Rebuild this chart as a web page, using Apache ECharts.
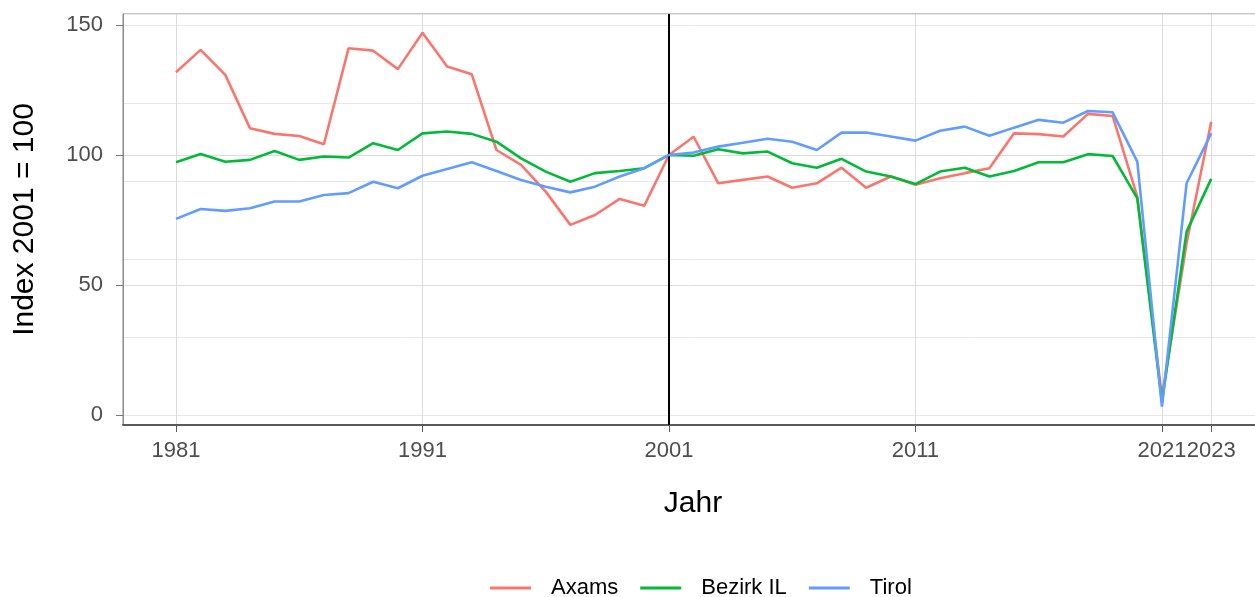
<!DOCTYPE html>
<html><head><meta charset="utf-8">
<script src="https://cdn.jsdelivr.net/npm/echarts@6/dist/echarts.min.js"></script>
<style>html,body{margin:0;padding:0;background:#fff}#c{width:1255px;height:597px}</style>
</head><body><div id="c"></div>
<script>
const years = [1981,1982,1983,1984,1985,1986,1987,1988,1989,1990,1991,1992,1993,1994,1995,1996,1997,1998,1999,2000,2001,2002,2003,2004,2005,2006,2007,2008,2009,2010,2011,2012,2013,2014,2015,2016,2017,2018,2019,2020,2021,2022,2023];
const axams = [131.8,140.4,130.8,110.3,108.1,107.3,104.1,141.0,140.1,133.0,147.0,134.0,131.0,101.9,96.2,85.9,73.1,76.9,83.1,80.5,100,107.0,89.1,90.4,91.7,87.4,89.1,95.1,87.4,91.7,88.5,91.0,93.0,94.9,108.3,108.0,107.1,115.8,115.0,84.0,7,66,112.8];
const bezirk = [97.2,100.4,97.4,98.1,101.5,98.1,99.4,99.0,104.5,101.9,108.3,109.0,108.1,105.1,98.7,93.6,89.7,93.0,93.8,94.9,100,99.7,102.2,100.6,101.3,96.8,95.1,98.5,93.6,91.7,88.8,93.6,95.1,91.7,93.8,97.2,97.2,100.3,99.6,83.3,5,70.5,90.8];
const tirol = [75.4,79.2,78.5,79.5,82.1,82.1,84.6,85.3,89.7,87.2,92.0,94.6,97.2,93.8,90.4,87.8,85.6,87.8,91.7,94.9,100,100.9,103.2,104.7,106.2,105.1,101.9,108.6,108.6,107.1,105.5,109.3,110.9,107.4,110.5,113.5,112.4,116.9,116.4,97.4,3.2,89.1,108.3];
const xTicks = [1981,1991,2001,2011,2021,2023];
const yMajor = [0,50,100,150];
const yMinor = [25,75,125];
const refYear = 2001;
const names = ['Axams','Bezirk IL','Tirol'];
const colors = ['#F8766D','#00BA38','#619CFF'];

const pairs = arr => years.map((y,i)=>[y,arr[i]]);
const chart = echarts.init(document.getElementById('c'), null, {renderer:'canvas'});
const font = 'Liberation Sans, Arial, sans-serif';
const series = [axams,bezirk,tirol].map((d,i)=>({
  name:names[i], type:'line', data:pairs(d), showSymbol:false, symbol:'none',
  lineStyle:{color:colors[i], width:2.6}, itemStyle:{color:colors[i]}, z:3+i, animation:false
}));
series[0].markLine = {silent:true, symbol:'none', label:{show:false},
  lineStyle:{color:'#000', width:2, type:'solid'}, data:[{xAxis:refYear}], animation:false};
series.push({type:'line', data:[], xAxisIndex:0, yAxisIndex:1, silent:true});
chart.setOption({
  animation:false,
  grid:{left:123, width:1140, top:14, bottom:172, show:true, borderColor:'#8a8a8a', borderWidth:1,
    containLabel:false, outerBoundsMode:'none'},
  xAxis:{type:'value', min:1978.85, max:2025.1,
    name:'Jahr', nameLocation:'middle', nameGap:64,
    nameTextStyle:{fontFamily:font, fontSize:30, color:'#000'},
    axisLine:{show:true, onZero:false, lineStyle:{color:'#5a5a5a', width:2}},
    axisTick:{show:true, customValues:xTicks, length:7, lineStyle:{color:'#5a5a5a', width:1}},
    axisLabel:{customValues:xTicks, margin:15, fontFamily:font, fontSize:22, color:'#4d4d4d',
      formatter:v=>String(v)},
    splitLine:{show:true, customValues:xTicks, lineStyle:{color:'#dcdcdc', width:1}}
  },
  yAxis:[{type:'value', min:-3.85, max:154.2,
    name:'Index 2001 = 100', nameLocation:'middle', nameGap:83,
    nameTextStyle:{fontFamily:font, fontSize:30, color:'#000'},
    axisLine:{show:true, onZero:false, lineStyle:{color:'#8a8a8a', width:1}},
    axisTick:{show:true, customValues:yMajor, length:7, lineStyle:{color:'#777'}},
    axisLabel:{customValues:yMajor, margin:20, fontFamily:font, fontSize:22, color:'#4d4d4d',
      formatter:v=>String(v)},
    splitLine:{show:true, customValues:yMajor, lineStyle:{color:'#dcdcdc', width:1}}
  },{type:'value', min:-3.85, max:154.2, show:true, position:'left',
    axisLine:{show:false}, axisTick:{show:false}, axisLabel:{show:false},
    splitLine:{show:true, customValues:yMinor, lineStyle:{color:'#e8e8e8', width:1}}
  }],
  legend:{data:names, top:577, left:490, padding:0, icon:'rect', itemWidth:41, itemHeight:3, itemGap:22,
    textStyle:{fontFamily:font, fontSize:22, color:'#000', padding:[0,0,0,15]}},
  series:series
});
</script></body></html>
